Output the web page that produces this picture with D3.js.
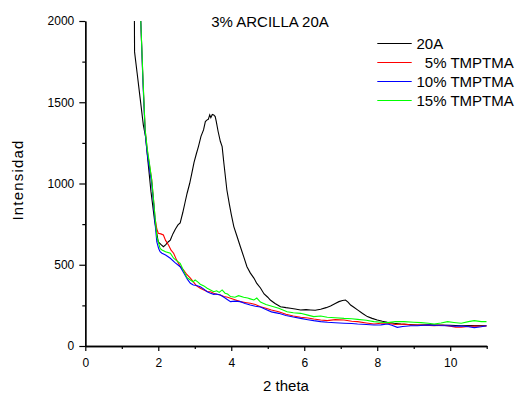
<!DOCTYPE html>
<html><head><meta charset="utf-8">
<script src="https://cdn.jsdelivr.net/npm/d3@7"></script>
<style>body{margin:0;background:#fff}svg text{font-family:"Liberation Sans",Arial,sans-serif}</style>
</head><body><svg id="c" width="518" height="394"></svg>
<script>
const xMajor=[0,2,4,6,8,10];
const xMinor=[1,3,5,7,9,11];
const yMajor=[0,500,1000,1500,2000];
const yMinor=[250,750,1250,1750];
const seriesNames=["20A","  5% TMPTMA","10% TMPTMA","15% TMPTMA"];
const seriesColors=["#000000","#ff0000","#0000ff","#00ff00"];

const x20A=[1.346,1.35,1.42,1.5,1.59,1.65,1.72,1.8,1.9,2.0,2.07,2.14,2.2,2.27,2.33,2.4,2.47,2.54,2.6,2.67,2.73,2.79,2.86,2.92,2.98,3.04,3.1,3.17,3.24,3.29,3.33,3.37,3.41,3.44,3.48,3.52,3.56,3.59,3.64,3.7,3.75,3.8,3.88,3.95,4.0,4.07,4.15,4.25,4.34,4.43,4.52,4.62,4.7,4.8,4.9,5.0,5.07,5.2,5.35,5.5,5.62,5.75,5.9,6.05,6.17,6.3,6.45,6.6,6.72,6.85,6.95,7.05,7.13,7.2,7.27,7.35,7.46,7.6,7.73,7.86,8.0,8.14,8.28,8.45,8.65,8.85,9.1,9.4,9.74,10.0,10.3,10.6,11.0];
const y20A=[2000,1810,1680,1530,1361,1290,1130,950,770,640,625,611,622,640,652,690,720,745,757,820,880,940,1000,1064,1130,1180,1227,1290,1330,1381,1390,1395,1422,1405,1425,1422,1412,1381,1320,1260,1227,1120,960,870,810,735,680,611,550,488,450,418,385,357,320,300,283,262,242,236,232,228,222,224,222,220,226,236,246,262,273,280,283,270,252,240,222,200,181,170,160,152,146,140,135,132,129,130,129,128,125,126,125];

const x5=[1.52,1.58,1.64,1.7,1.76,1.82,1.87,1.91,1.96,2.0,2.07,2.14,2.2,2.28,2.35,2.42,2.5,2.6,2.69,2.78,2.88,2.96,3.05,3.15,3.25,3.34,3.43,3.52,3.6,3.7,3.8,3.9,3.98,4.1,4.25,4.38,4.52,4.66,4.8,4.95,5.1,5.3,5.5,5.7,5.9,6.1,6.26,6.45,6.63,6.85,7.09,7.3,7.46,7.7,7.91,8.1,8.28,8.5,8.73,8.9,9.1,9.3,9.56,9.8,10.0,10.15,10.3,10.5,10.66,10.85,11.0];
const y5=[2000,1640,1330,1200,1110,1022,900,790,720,694,690,683,650,622,590,571,530,490,468,440,417,395,370,355,345,335,334,325,318,314,305,300,294,285,273,268,263,255,242,232,222,211,195,185,177,172,166,160,156,162,160,152,150,142,135,140,140,132,135,130,129,128,125,128,122,116,115,120,123,122,123];

const x10=[1.52,1.58,1.64,1.7,1.76,1.82,1.87,1.92,1.96,2.01,2.05,2.1,2.2,2.33,2.45,2.6,2.7,2.8,2.88,2.96,3.05,3.15,3.25,3.34,3.43,3.52,3.6,3.7,3.8,3.9,3.98,4.1,4.25,4.38,4.52,4.66,4.8,4.95,5.1,5.3,5.5,5.7,5.9,6.1,6.26,6.45,6.63,6.85,7.09,7.3,7.46,7.7,7.91,8.1,8.28,8.4,8.55,8.7,8.92,9.1,9.38,9.6,9.93,10.1,10.3,10.5,10.66,10.85,11.0];
const y10=[2000,1620,1312,1180,1090,1000,880,735,640,600,580,571,560,540,515,488,450,410,386,375,372,365,350,334,324,318,320,314,300,285,273,276,273,262,252,245,240,225,210,201,188,178,170,162,156,150,146,143,140,138,135,132,129,130,135,128,115,120,125,125,129,126,125,122,123,118,113,118,125];

const x15=[1.52,1.58,1.64,1.7,1.76,1.82,1.87,1.91,1.96,2.05,2.1,2.2,2.33,2.42,2.5,2.6,2.7,2.79,2.88,2.95,3.01,3.08,3.15,3.25,3.34,3.43,3.52,3.6,3.67,3.75,3.83,3.9,3.98,4.1,4.2,4.34,4.45,4.52,4.62,4.7,4.8,4.95,5.16,5.3,5.53,5.7,5.9,6.1,6.26,6.45,6.63,6.85,7.09,7.3,7.46,7.7,7.91,8.1,8.28,8.5,8.73,9.0,9.2,9.4,9.56,9.75,9.93,10.1,10.3,10.5,10.66,10.85,11.0];
const y15=[2000,1650,1330,1210,1120,1022,900,800,673,601,591,580,571,540,525,509,460,420,406,395,406,395,380,370,355,345,334,340,330,345,325,320,304,300,310,300,295,290,283,295,270,255,242,232,211,205,201,190,181,185,177,174,170,168,164,158,150,146,144,150,150,146,144,140,135,142,150,145,140,150,156,150,150];

const seriesX=[x20A,x5,x10,x15];
const seriesY=[y20A,y5,y10,y15];

const svg=d3.select("#c");
const L=85.3,R=486.7,T=21,B=346;
const xs=d3.scaleLinear().domain([0,11]).range([L,R]);
const ys=d3.scaleLinear().domain([0,2000]).range([B,T]);

svg.append("defs").append("clipPath").attr("id","clip").append("rect")
  .attr("x",L).attr("y",T).attr("width",R-L).attr("height",B-T);

const line=d3.line().x(d=>xs(d[0])).y(d=>ys(d[1]));
const g=svg.append("g").attr("clip-path","url(#clip)");
seriesX.forEach((xa,i)=>{
  const pts=xa.map((v,j)=>[v,seriesY[i][j]]);
  g.append("path").datum(pts).attr("d",line).attr("fill","none")
   .attr("stroke",seriesColors[i]).attr("stroke-width",1.1);
});

// axes
svg.append("g").attr("transform",`translate(0,${B})`)
  .call(d3.axisBottom(xs).tickValues(xMajor).tickSize(5).tickSizeOuter(0).tickPadding(7).tickFormat(d3.format("d")));
svg.append("g").attr("transform",`translate(0,${B})`)
  .call(d3.axisBottom(xs).tickValues(xMinor).tickSize(3).tickSizeOuter(0).tickFormat(""));
svg.append("g").attr("transform",`translate(${L},0)`)
  .call(d3.axisLeft(ys).tickValues(yMajor).tickSize(6).tickSizeOuter(0).tickPadding(5).tickFormat(d3.format("d")));
svg.append("g").attr("transform",`translate(${L},0)`)
  .call(d3.axisLeft(ys).tickValues(yMinor).tickSize(3).tickSizeOuter(0).tickFormat(""));
svg.selectAll(".domain").attr("stroke","#000").attr("stroke-width",1.3);
svg.selectAll(".tick line").attr("stroke","#000").attr("stroke-width",1.2);
svg.selectAll(".tick text").attr("font-size",12).attr("font-family","Liberation Sans, Arial, sans-serif").attr("fill","#000");

// titles
svg.append("text").attr("x",270).attr("y",26.5).attr("text-anchor","middle")
  .attr("font-size",15).text("3% ARCILLA 20A");
svg.append("text").attr("x",(L+R)/2).attr("y",390.5).attr("text-anchor","middle")
  .attr("font-size",15).text("2 theta");
svg.append("text").attr("transform","translate(23,180) rotate(-90)").attr("text-anchor","middle")
  .attr("font-size",15).attr("letter-spacing",1.2).text("Intensidad");

// legend
const lg=svg.append("g");
seriesNames.forEach((n,i)=>{
  const yy=43.5+i*19;
  lg.append("line").attr("x1",377.3).attr("x2",411.7).attr("y1",yy).attr("y2",yy)
    .attr("stroke",seriesColors[i]).attr("stroke-width",1.2);
  lg.append("text").attr("x",416.5).attr("y",yy+5.5).attr("font-size",15)
    .style("white-space","pre").text(n);
});
</script></body></html>
